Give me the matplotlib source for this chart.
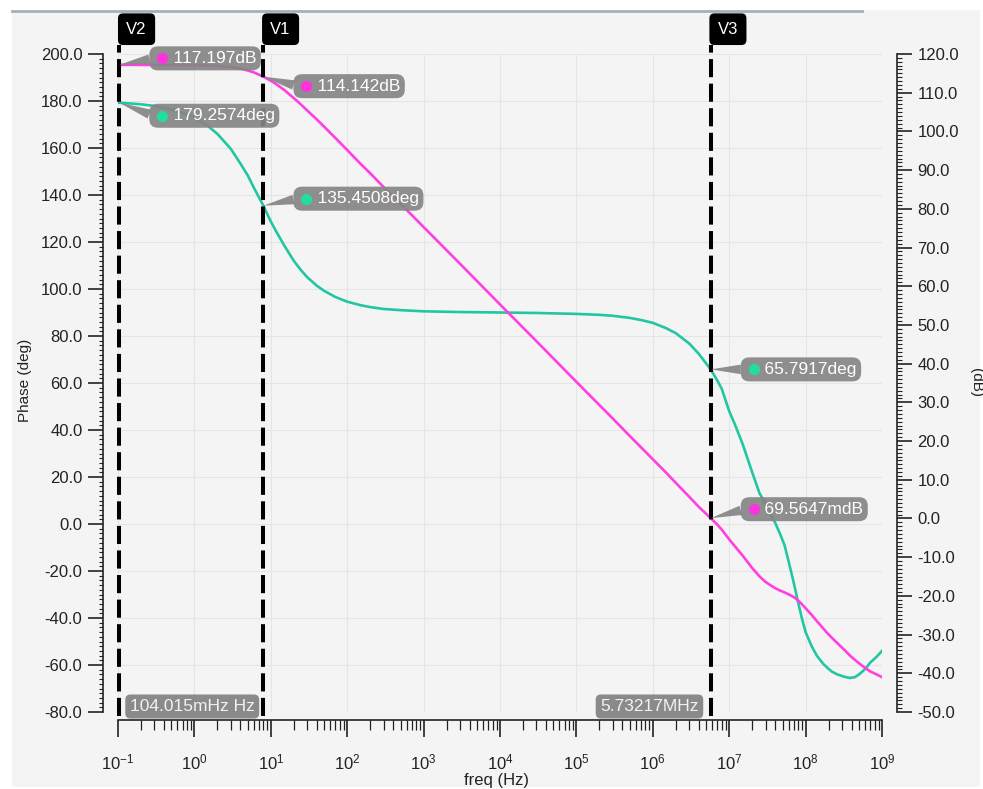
import matplotlib
matplotlib.use('Agg')
import matplotlib.pyplot as plt
import matplotlib.transforms as mtransforms
from matplotlib.patches import Rectangle
from matplotlib.lines import Line2D
from matplotlib.ticker import MultipleLocator, LogLocator, FormatStrFormatter

plt.rcParams['font.family'] = ['Liberation Sans', 'DejaVu Sans']
plt.rcParams['mathtext.fontset'] = 'custom'
plt.rcParams['mathtext.rm'] = 'Liberation Sans'

# --- AC sweep: open-loop gain and phase ---
freq = [0.1, 0.104015, 0.15, 0.2, 0.3, 0.5, 0.7, 1, 1.5, 2,
        3, 4, 5, 6, 8, 10, 12, 15, 20, 25,
        30, 40, 50, 70, 100, 150, 200, 300, 500, 1e3,
        3e3, 1e4, 3e4, 1e5, 2e5, 3e5, 5e5, 7e5, 1e6, 1.5e6,
        2e6, 3e6, 4e6, 5.73217e6, 7e6, 8e6, 1e7, 1.2e7, 1.5e7, 2e7,
        2.5e7, 3e7, 3.5e7, 4e7, 4.6e7, 5.3e7, 6e7, 7e7, 7.8e7, 9e7,
        1e8, 1.2e8, 1.4e8, 1.7e8, 1.9e8, 2.2e8, 2.6e8, 3.2e8, 3.8e8, 4.4e8,
        5e8, 6e8, 7e8, 8.5e8, 1e9]
phase_deg = [179.3, 179.2574, 178.9, 178.6, 177.9, 176.4, 175.0, 172.9, 169.4, 166.0,
             159.6, 153.4, 148.3, 143.1, 135.4508, 128.7, 124.0, 118.5, 112.0, 107.9,
             105.0, 101.4, 99.2, 96.6, 94.6, 93.1, 92.3, 91.5, 91.0, 90.5,
             90.2, 90.0, 89.8, 89.4, 89.0, 88.6, 87.7, 86.8, 85.6, 83.3,
             81.2, 76.8, 72.4, 65.7917, 61.0, 57.5, 48.0, 42.0, 34.0, 22.0,
             13.0, 8.5, 4.0, 0.5, -4.0, -9.0, -16.0, -25.0, -32.0, -40.5,
             -46.0, -52.0, -56.0, -59.5, -61.0, -62.8, -64.0, -65.0, -65.5, -65.2,
             -64.0, -61.8, -59.0, -56.5, -54.0]
mag_db = [117.2, 117.197, 117.19, 117.18, 117.17, 117.16, 117.14, 117.13, 117.05, 116.94,
          116.62, 116.23, 115.73, 115.26, 114.142, 113.1, 112.1, 110.7, 108.6, 106.9,
          105.4, 103.1, 101.2, 98.3, 95.2, 91.6, 89.2, 85.6, 81.3, 75.3,
          65.8, 55.3, 45.8, 35.3, 29.3, 25.8, 21.3, 18.4, 15.3, 11.8,
          9.2, 5.6, 3.0, 0.0695647, -1.6, -2.9, -5.4, -7.3, -9.6, -12.8,
          -15.0, -16.4, -17.3, -18.0, -18.6, -19.1, -19.6, -20.3, -21.0, -22.2,
          -23.2, -24.9, -26.5, -28.4, -29.5, -30.8, -32.2, -33.9, -35.4, -36.5,
          -37.4, -38.6, -39.5, -40.3, -41.0]

# cursors
cursor_names = ['V2', 'V1', 'V3']
cursor_freq = [0.104015, 8.0, 5.73217e6]
cursor_phase = [179.2574, 135.4508, 65.7917]
cursor_mag = [117.197, 114.142, 0.0695647]
cursor_phase_txt = ['179.2574deg', '135.4508deg', '65.7917deg']
cursor_mag_txt = ['117.197dB', '114.142dB', '69.5647mdB']
cursor_freq_txt = ['104.015mHz Hz', None, '5.73217MHz']

# label box offsets (pixels, y up) for the value readouts
mag_dy = [6.5, -9.5, 9]
phase_dy = [-13, 7, 0]

W, H = 983, 789
fig = plt.figure(figsize=(W / 100, H / 100), dpi=100)
fig.patch.set_facecolor('white')
fig.patches.append(Rectangle((12 / W, 2 / H), 968 / W, 777 / H, transform=fig.transFigure,
                             fc='#f4f4f4', ec='none', zorder=-10))
fig.lines.append(Line2D([12 / W, 862 / W], [1 - 11 / H, 1 - 11 / H], transform=fig.transFigure,
                        color='#a7b0ba', lw=2))

ax = fig.add_axes([118 / W, 77 / H, 764 / W, 658 / H])
ax.set_facecolor('none')
ax.set_xscale('log')
ax.set_xlim(0.1, 1e9)
ax.set_ylim(-80, 200)
ax2 = ax.twinx()
ax2.set_ylim(-50, 120)

px = 72 / 100  # points per pixel
spine_c = '#222222'
for s in ['top', 'right']:
    ax.spines[s].set_visible(False)
for s in ['top', 'left', 'bottom']:
    ax2.spines[s].set_visible(False)
ax.spines['left'].set_position(('outward', 15 * px))
ax.spines['bottom'].set_position(('outward', 8 * px))
ax2.spines['right'].set_position(('outward', 15 * px))
for sp in [ax.spines['left'], ax.spines['bottom'], ax2.spines['right']]:
    sp.set_color(spine_c)
    sp.set_linewidth(1.2)

ax.yaxis.set_major_locator(MultipleLocator(20))
ax.yaxis.set_minor_locator(MultipleLocator(2))
ax.yaxis.set_major_formatter(FormatStrFormatter('%.1f'))
ax2.yaxis.set_major_locator(MultipleLocator(10))
ax2.yaxis.set_minor_locator(MultipleLocator(1))
ax2.yaxis.set_major_formatter(FormatStrFormatter('%.1f'))
ax.xaxis.set_major_locator(LogLocator(base=10, numticks=20))
ax.xaxis.set_minor_locator(LogLocator(base=10, subs=range(2, 10), numticks=20))

ax.tick_params(axis='y', which='major', direction='out', length=15 * px, width=1.2,
               color=spine_c, labelsize=12, labelcolor='#222', pad=4)
ax.tick_params(axis='y', which='minor', direction='out', length=4 * px, width=0.8, color=spine_c)
ax2.tick_params(axis='y', which='major', direction='out', length=15 * px, width=1.2,
                color=spine_c, labelsize=12, labelcolor='#222', pad=4)
ax2.tick_params(axis='y', which='minor', direction='out', length=5 * px, width=0.8, color=spine_c)
ax.tick_params(axis='x', which='major', direction='out', length=17 * px, width=1.2,
               color=spine_c, labelsize=12, labelcolor='#222', pad=11)
ax.tick_params(axis='x', which='minor', direction='out', length=10 * px, width=0.9, color=spine_c)

ax.grid(which='major', axis='both', color='#e5e5e5', lw=0.8)
ax.set_axisbelow(True)

fig.text(25 / W, 1 - 380 / H, 'Phase (deg)', rotation=90, ha='center', va='center',
         fontsize=11, color='#222')
fig.text(976 / W, 1 - 382 / H, '(dB)', rotation=-90, ha='center', va='center',
         fontsize=11, color='#222')
fig.text(497 / W, 1 - 781 / H, 'freq (Hz)', ha='center', va='center', fontsize=12, color='#222')

green = '#22c6a3'
magenta = '#ff3fe0'
ax.plot(freq, phase_deg, color=green, lw=1.9, zorder=3)
ax2.plot(freq, mag_db, color=magenta, lw=1.9, zorder=3)

box_c = '#858585'
top_tr = mtransforms.blended_transform_factory(ax2.transData, ax2.transAxes)
lab_fs = 12.5
lab_pad = 0.26
pad_px = lab_pad * lab_fs / px


def readout(x, y, trans, text, dy, dot_color):
    ax2.annotate('    ' + text, xy=(x, y), xycoords=trans, xytext=(30 + pad_px, dy),
                 textcoords='offset pixels', ha='left', va='center', fontsize=lab_fs,
                 color='white', zorder=6,
                 bbox=dict(boxstyle='round,pad=%.2f,rounding_size=0.5' % lab_pad, fc=box_c,
                           ec='none', alpha=0.92),
                 arrowprops=dict(arrowstyle='wedge,tail_width=0.55', fc=box_c, ec='none',
                                 alpha=0.92, shrinkA=0, shrinkB=0, relpos=(0.0, 0.5)))
    dot_tr = mtransforms.offset_copy(trans, fig=fig, x=43, y=dy, units='dots')
    ax2.plot([x], [y], 'o', transform=dot_tr, ms=8, color=dot_color, mec='none',
             zorder=7, clip_on=False)


for i, name in enumerate(cursor_names):
    f = cursor_freq[i]
    ax2.axvline(f, ymin=-0.006, ymax=1.0137, color='black', lw=2.9,
                ls=(0, (4.5, 1.6)), clip_on=False, zorder=5)
    ax2.annotate(name, xy=(f, 1), xycoords=top_tr, xytext=(7.0, 17.3),
                 textcoords='offset pixels', ha='left', va='bottom', fontsize=12,
                 color='white', zorder=8, annotation_clip=False,
                 bbox=dict(boxstyle='round,pad=0.5,rounding_size=0.3', fc='black', ec='none'))
    readout(f, cursor_mag[i], ax2.transData, cursor_mag_txt[i], mag_dy[i], '#ff33dd')
    readout(f, cursor_phase[i], ax.transData, cursor_phase_txt[i], phase_dy[i], '#22dd9e')

    if cursor_freq_txt[i] is not None:
        if i == 0:
            ha, dx = 'left', 6 + pad_px
        else:
            ha, dx = 'right', -7.5 - pad_px
        ax2.annotate(cursor_freq_txt[i], xy=(f, 0), xycoords=top_tr, xytext=(dx, 5.5),
                     textcoords='offset pixels', ha=ha, va='center', fontsize=lab_fs,
                     color='#f2f2f2', zorder=6, annotation_clip=False,
                     bbox=dict(boxstyle='round,pad=%.2f,rounding_size=0.3' % lab_pad,
                               fc='#8a8a8a', ec='none'))

fig.savefig('out.png', dpi=100, facecolor=fig.get_facecolor())
